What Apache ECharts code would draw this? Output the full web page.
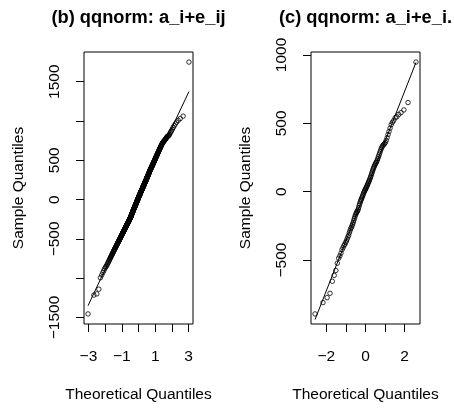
<!DOCTYPE html>
<html><head><meta charset="utf-8">
<script src="https://cdn.jsdelivr.net/npm/echarts@6/dist/echarts.min.js"></script>
<style>html,body{margin:0;padding:0;background:#fff}#c{width:454px;height:408px}</style>
</head><body><div id="c"></div>
<script>
// ---- chart text ----
const titles = ['(b) qqnorm: a_i+e_ij', '(c) qqnorm: a_i+e_i.'];
const xAxisName = 'Theoretical Quantiles';
const yAxisName = 'Sample Quantiles';

// ---- sorted sample values ----
const sampleB = [
-1455,-1215,-1200,-1140,-995,-960,-930,-905,-880,-862,
-850,-835,-820,-805,-792,-778,-765,-752,-740,-730,
-720,-710,-700,-690,-681,-672,-663,-655,-647,-639,
-631,-624,-617,-610,-603,-597,-590,-584,-578,-572,
-566,-560,-554,-548,-542,-537,-532,-527,-521,-516,
-511,-506,-501,-496,-491,-486,-481,-476,-471,-466,
-462,-458,-454,-450,-445,-441,-437,-432,-428,-424,
-420,-416,-412,-408,-404,-400,-396,-392,-388,-384,
-381,-377,-374,-370,-366,-363,-359,-355,-352,-348,
-344,-341,-337,-333,-330,-326,-322,-319,-314,-311,
-310,-307,-304,-301,-298,-295,-292,-289,-286,-283,
-280,-277,-274,-270,-266,-262,-259,-255,-252,-249,
-246,-243,-240,-236,-233,-230,-226,-223,-220,-216,
-213,-209,-205,-201,-197,-193,-189,-185,-181,-177,
-174,-170,-167,-163,-160,-156,-153,-149,-146,-142,
-138,-135,-131,-128,-124,-121,-117,-114,-110,-107,
-104,-101,-98,-95,-92,-89,-86,-82,-79,-76,
-72,-69,-65,-62,-58,-55,-51,-48,-44,-41,
-38,-35,-32,-29,-26,-22,-19,-16,-13,-10,
-6,-3,0,4,7,11,14,18,22,26,
29,32,35,38,41,44,47,50,53,56,
59,62,65,68,71,74,77,80,84,88,
91,94,97,100,103,106,109,112,115,118,
121,124,127,130,133,136,139,142,146,150,
153,156,159,162,165,168,171,175,178,181,
184,188,191,194,198,201,205,209,213,217,
220,223,226,229,232,235,238,241,244,247,
250,253,257,261,265,269,273,277,281,286,
289,292,295,298,301,305,309,313,317,321,
325,329,333,337,341,345,349,353,358,363,
367,371,375,378,382,386,389,393,397,400,
404,408,411,415,419,423,427,431,435,439,
444,448,452,456,460,465,469,474,478,483,
487,492,497,502,507,512,517,522,527,532,
537,542,547,552,558,563,568,574,580,586,
591,597,603,609,615,621,628,634,641,647,
653,660,667,674,681,688,695,702,709,716,
722,728,734,739,744,749,755,761,767,775,
782,790,797,803,808,814,820,830,850,862,
878,898,918,940,962,985,1008,1030,1062,1750
];
const sampleC = [
-894,-811,-775,-743,-655,-612,-576,-523,-487,-470,
-450,-425,-410,-395,-385,-372,-360,-345,-330,-318,
-300,-285,-270,-262,-250,-238,-225,-210,-196,-182,
-170,-160,-152,-145,-138,-128,-115,-100,-88,-75,
-64,-55,-46,-38,-28,-18,-8,0,8,15,
22,30,38,46,55,64,72,80,90,100,
110,122,133,145,157,168,178,188,196,204,
212,220,230,242,255,268,282,296,310,322,
332,340,346,352,360,375,395,418,440,465,
490,507,520,540,548,565,578,598,652,948
];

// ---- reference lines: [intercept, slope] ----
const qqLineB = [12.5, 450.7];
const qqLineC = [5, 365];

// ---- ticks and tick labels ----
const xTicksB = [-3,-2,-1,0,1,2,3];
const xLabelsB = [-3,-1,1,3];
const yTicksB = [-1500,-1000,-500,0,500,1000,1500];
const yLabelsB = [-1500,-500,0,500,1500];
const xTicksC = [-2,-1,0,1,2];
const xLabelsC = [-2,0,2];
const yTicksC = [-500,0,500,1000];
const yLabelsC = [-500,0,500,1000];

// ---- qqnorm helpers ----
function qnorm(p){
  const a=[-3.969683028665376e+01,2.209460984245205e+02,-2.759285104469687e+02,1.383577518672690e+02,-3.066479806614716e+01,2.506628277459239e+00];
  const b=[-5.447609879822406e+01,1.615858368580409e+02,-1.556989798598866e+02,6.680131188771972e+01,-1.328068155288572e+01];
  const c=[-7.784894002430293e-03,-3.223964580411365e-01,-2.400758277161838e+00,-2.549732539343734e+00,4.374664141464968e+00,2.938163982698783e+00];
  const d=[7.784695709041462e-03,3.224671290700398e-01,2.445134137142996e+00,3.754408661907416e+00];
  const pl=0.02425, ph=1-pl; let q,r;
  if(p<pl){q=Math.sqrt(-2*Math.log(p));return (((((c[0]*q+c[1])*q+c[2])*q+c[3])*q+c[4])*q+c[5])/((((d[0]*q+d[1])*q+d[2])*q+d[3])*q+1);}
  if(p>ph){q=Math.sqrt(-2*Math.log(1-p));return -(((((c[0]*q+c[1])*q+c[2])*q+c[3])*q+c[4])*q+c[5])/((((d[0]*q+d[1])*q+d[2])*q+d[3])*q+1);}
  q=p-0.5;r=q*q;
  return (((((a[0]*r+a[1])*r+a[2])*r+a[3])*r+a[4])*r+a[5])*q/(((((b[0]*r+b[1])*r+b[2])*r+b[3])*r+b[4])*r+1);
}
function qqPoints(y){
  const n=y.length, a=n<=10?3/8:1/2;
  return y.map((v,i)=>[qnorm((i+1-a)/(n+1-2*a)), v]);
}
function extRange(vals){
  const mn=Math.min(...vals), mx=Math.max(...vals), d=(mx-mn)*0.04;
  return [mn-d, mx+d];
}

const ptsB = qqPoints(sampleB), ptsC = qqPoints(sampleC);
const xrB = extRange(ptsB.map(p=>p[0])), yrB = extRange(sampleB);
const xrC = extRange(ptsC.map(p=>p[0])), yrC = extRange(sampleC);
function linePts(pts, ln){
  const x0=pts[0][0], x1=pts[pts.length-1][0];
  return [[x0, ln[0]+ln[1]*x0],[x1, ln[0]+ln[1]*x1]];
}

const FONT = 'Liberation Sans, Arial, Helvetica, sans-serif';
const FS = 15.5;
const fmt = v => (v<0?'\u2212':'') + Math.abs(v);

function xAx(idx, rng, ticks, labels){
  return {type:'value', gridIndex:idx, min:rng[0], max:rng[1],
    name:xAxisName, nameLocation:'middle', nameGap:63,
    nameTextStyle:{fontFamily:FONT, fontSize:FS, color:'#000'},
    splitLine:{show:false}, axisLine:{show:false, onZero:false},
    axisTick:{show:true, customValues:ticks, length:8, lineStyle:{color:'#000', width:1}},
    axisLabel:{customValues:labels, formatter:fmt, margin:25, fontFamily:FONT, fontSize:FS, color:'#000'}};
}
function yAx(idx, rng, ticks, labels){
  return {type:'value', gridIndex:idx, min:rng[0], max:rng[1],
    name:yAxisName, nameLocation:'middle', nameGap:57, nameRotate:90,
    nameTextStyle:{fontFamily:FONT, fontSize:FS, color:'#000'},
    splitLine:{show:false}, axisLine:{show:false, onZero:false},
    axisTick:{show:true, customValues:ticks, length:8, lineStyle:{color:'#000', width:1}},
    axisLabel:{customValues:labels, formatter:fmt, rotate:90, margin:21, fontFamily:FONT, fontSize:FS, color:'#000'}};
}
function scat(idx, pts){
  return {type:'scatter', xAxisIndex:idx, yAxisIndex:idx, data:pts, symbol:'circle', symbolSize:4.5,
    itemStyle:{color:'rgba(0,0,0,0)', borderColor:'#000', borderWidth:1}, silent:true, z:2};
}
function ln(idx, pts){
  return {type:'line', xAxisIndex:idx, yAxisIndex:idx, data:pts, showSymbol:false, symbol:'none',
    lineStyle:{color:'#000', width:1}, silent:true, z:3};
}

const chart = echarts.init(document.getElementById('c'), null, {renderer:'canvas'});
chart.setOption({
  animation:false,
  backgroundColor:'#fff',
  title:[
    {text:titles[0], left:133.5, top:4, textAlign:'center', textStyle:{fontFamily:FONT, fontSize:18.3, fontWeight:'bold', color:'#000'}},
    {text:titles[1], left:360.5, top:4, textAlign:'center', textStyle:{fontFamily:FONT, fontSize:18.3, fontWeight:'bold', color:'#000'}}
  ],
  grid:[
    {left:84, top:52, width:109, height:276, show:true, borderColor:'#000', borderWidth:1, backgroundColor:'transparent'},
    {left:311, top:52, width:109, height:276, show:true, borderColor:'#000', borderWidth:1, backgroundColor:'transparent'}
  ],
  xAxis:[xAx(0,xrB,xTicksB,xLabelsB), xAx(1,xrC,xTicksC,xLabelsC)],
  yAxis:[yAx(0,yrB,yTicksB,yLabelsB), yAx(1,yrC,yTicksC,yLabelsC)],
  series:[scat(0,ptsB), ln(0,linePts(ptsB,qqLineB)), scat(1,ptsC), ln(1,linePts(ptsC,qqLineC))]
});
</script></body></html>
